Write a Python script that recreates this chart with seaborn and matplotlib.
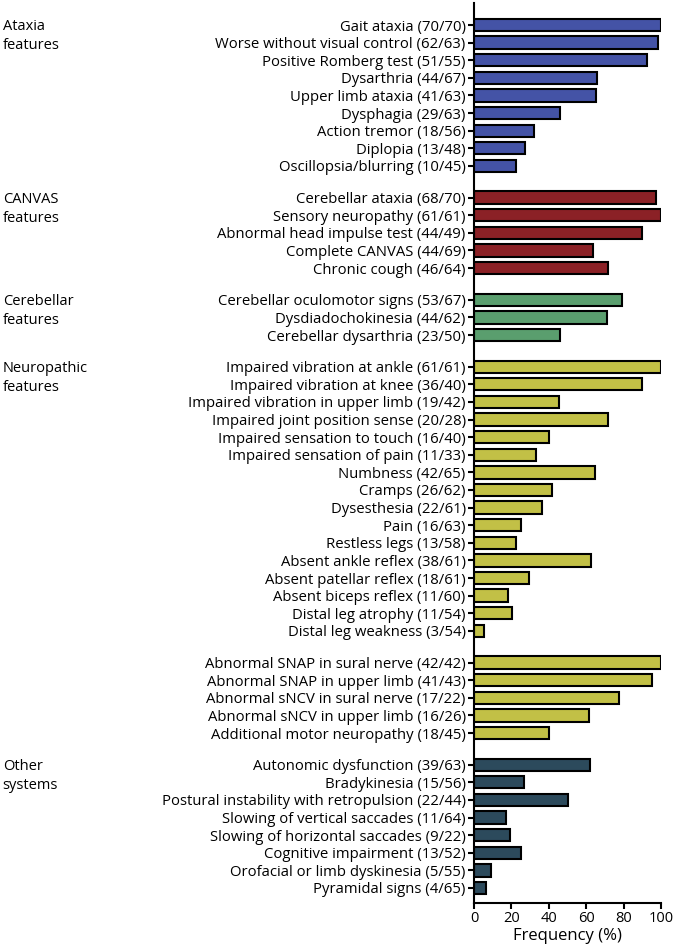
# coding: utf-8
"""Частота клинических признаков по группам (горизонтальные столбцы)."""

import matplotlib

matplotlib.use("Agg")
import matplotlib.pyplot as plt
import matplotlib.transforms as mtransforms
import pandas as pd
import seaborn as sns

ATAXIA_LABELS = [
    "Gait ataxia (70/70)",
    "Worse without visual control (62/63)",
    "Positive Romberg test (51/55)",
    "Dysarthria (44/67)",
    "Upper limb ataxia (41/63)",
    "Dysphagia (29/63)",
    "Action tremor (18/56)",
    "Diplopia (13/48)",
    "Oscillopsia/blurring (10/45)",
]
ATAXIA_VALUES = [100, 98.4, 92.7, 65.7, 65.1, 46.0, 32.1, 27.1, 22.2]

CANVAS_LABELS = [
    "Cerebellar ataxia (68/70)",
    "Sensory neuropathy (61/61)",
    "Abnormal head impulse test (44/49)",
    "Complete CANVAS (44/69)",
    "Chronic cough (46/64)",
]
CANVAS_VALUES = [97.1, 100, 89.8, 63.8, 71.9]

CEREBELLAR_LABELS = [
    "Cerebellar oculomotor signs (53/67)",
    "Dysdiadochokinesia (44/62)",
    "Cerebellar dysarthria (23/50)",
]
CEREBELLAR_VALUES = [79.1, 71.0, 46.0]

NEURO_LABELS = [
    "Impaired vibration at ankle (61/61)",
    "Impaired vibration at knee (36/40)",
    "Impaired vibration in upper limb (19/42)",
    "Impaired joint position sense (20/28)",
    "Impaired sensation to touch (16/40)",
    "Impaired sensation of pain (11/33)",
    "Numbness (42/65)",
    "Cramps (26/62)",
    "Dysesthesia (22/61)",
    "Pain (16/63)",
    "Restless legs (13/58)",
    "Absent ankle reflex (38/61)",
    "Absent patellar reflex (18/61)",
    "Absent biceps reflex (11/60)",
    "Distal leg atrophy (11/54)",
    "Distal leg weakness (3/54)",
]
NEURO_VALUES = [100, 90.0, 45.2, 71.4, 40.0, 33.3, 64.6, 41.9, 36.1, 25.4,
                22.4, 62.3, 29.5, 18.3, 20.4, 5.6]

PHYSIO_LABELS = [
    "Abnormal SNAP in sural nerve (42/42)",
    "Abnormal SNAP in upper limb (41/43)",
    "Abnormal sNCV in sural nerve (17/22)",
    "Abnormal sNCV in upper limb (16/26)",
    "Additional motor neuropathy (18/45)",
]
PHYSIO_VALUES = [100, 95.3, 77.3, 61.5, 40.0]

OTHER_LABELS = [
    "Autonomic dysfunction (39/63)",
    "Bradykinesia (15/56)",
    "Postural instability with retropulsion (22/44)",
    "Slowing of vertical saccades (11/64)",
    "Slowing of horizontal saccades (9/22)",
    "Cognitive impairment (13/52)",
    "Orofacial or limb dyskinesia (5/55)",
    "Pyramidal signs (4/65)",
]
OTHER_VALUES = [61.9, 26.8, 50.0, 17.2, 19.0, 25.0, 9.1, 6.2]

GROUPS = [
    ("ataxia", "Ataxia\nfeatures", ATAXIA_LABELS, ATAXIA_VALUES, "#4453a6"),
    ("canvas", "CANVAS\nfeatures", CANVAS_LABELS, CANVAS_VALUES, "#8b2126"),
    ("cerebellar", "Cerebellar\nfeatures", CEREBELLAR_LABELS, CEREBELLAR_VALUES, "#5a9e6e"),
    ("neuro", "Neuropathic\nfeatures", NEURO_LABELS, NEURO_VALUES, "#c2c046"),
    ("physio", "", PHYSIO_LABELS, PHYSIO_VALUES, "#c2c046"),
    ("other", "Other\nsystems", OTHER_LABELS, OTHER_VALUES, "#2c4a5c"),
]
GROUP_GAP = 0.8

plt.rcParams["font.family"] = ["Open Sans", "DejaVu Sans"]

rows = []
headers = []
pos = 0.0
for gi, (key, header, labels, values, color) in enumerate(GROUPS):
    if gi > 0:
        pos += GROUP_GAP
    headers.append((header, pos))
    for label, value in zip(labels, values):
        rows.append({"label": label, "value": value, "group": key, "pos": pos})
        pos += 1
df = pd.DataFrame(rows)
palette = {key: color for key, _, _, _, color in GROUPS}

fig = plt.figure(figsize=(6.75, 9.47), dpi=100)
ax = fig.add_axes([0.7022, 0.0465, 0.2771, 0.9503])
sns.barplot(
    data=df,
    x="value",
    y="pos",
    hue="group",
    palette=palette,
    saturation=1,
    orient="h",
    native_scale=True,
    dodge=False,
    width=0.7,
    edgecolor="black",
    linewidth=1.5,
    legend=False,
    ax=ax,
)

ax.set_yticks(df["pos"])
ax.set_yticklabels(df["label"], fontsize=10.7)
ax.set_ylim(pos - 1 + 0.85, -1.25)
ax.set_xlim(0, 100)
ax.set_xticks([0, 20, 40, 60, 80, 100])
ax.tick_params(axis="x", labelsize=10.5, length=4, width=1.5, pad=2)
ax.tick_params(axis="y", length=4, width=1.5, pad=2)
ax.set_xlabel("Frequency (%)", fontsize=12, labelpad=1)
ax.set_ylabel("")
for side in ("top", "right"):
    ax.spines[side].set_visible(False)
for side in ("left", "bottom"):
    ax.spines[side].set_linewidth(1.5)

trans = mtransforms.blended_transform_factory(fig.transFigure, ax.transData)
for header, y in headers:
    if header:
        ax.text(0.004, y - 0.33, header, transform=trans, fontsize=10.5,
                ha="left", va="top", linespacing=1.35)

fig.savefig("out.png", dpi=100)
